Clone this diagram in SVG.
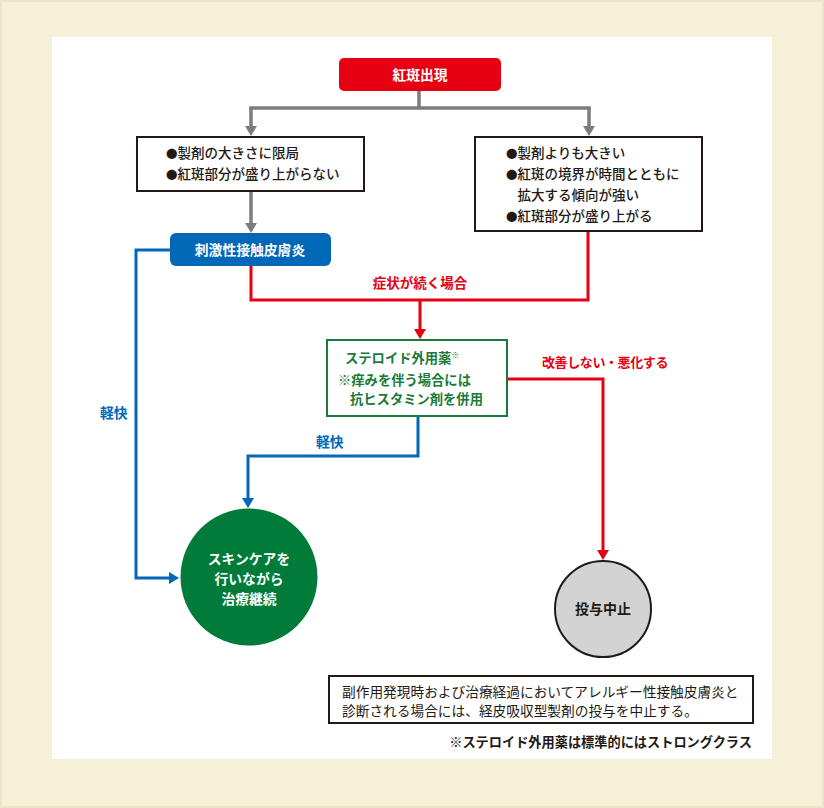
<svg xmlns="http://www.w3.org/2000/svg" width="824" height="808" viewBox="0 0 824 808">
<defs>
<style>
text{font-family:"Noto Sans CJK JP","Noto Sans",sans-serif;}
.t{font-size:13.5px;fill:#231815;font-weight:500;}
.bu{font-size:11.5px;}
.w{font-size:13.8px;fill:#ffffff;font-weight:bold;}
.g{font-size:13.3px;fill:#1a7a3a;font-weight:bold;}
.lr{font-size:13.5px;fill:#e60012;font-weight:bold;}
.lb{font-size:13.8px;fill:#0068b7;font-weight:bold;}
.box{fill:#ffffff;stroke:#231815;stroke-width:2;}
.cg{fill:none;stroke:#7d7d7d;stroke-width:3.5;}
.cr{fill:none;stroke:#e60012;stroke-width:3;}
.cb{fill:none;stroke:#0068b7;stroke-width:3;}
</style>
<marker id="ag" viewBox="0 0 10 12" refX="1" refY="6" markerWidth="10" markerHeight="12" markerUnits="userSpaceOnUse" orient="auto"><path d="M0,0 L10,6 L0,12 z" fill="#7d7d7d"/></marker>
<marker id="ar" viewBox="0 0 10 12" refX="1" refY="6" markerWidth="10" markerHeight="12" markerUnits="userSpaceOnUse" orient="auto"><path d="M0,0 L10,6 L0,12 z" fill="#e60012"/></marker>
<marker id="ab" viewBox="0 0 10 12" refX="1" refY="6" markerWidth="10" markerHeight="12" markerUnits="userSpaceOnUse" orient="auto"><path d="M0,0 L10,6 L0,12 z" fill="#0068b7"/></marker>
</defs>
<rect x="0" y="0" width="824" height="808" fill="#f5f0d8"/>
<rect x="1" y="1" width="822" height="806" fill="none" stroke="#ebe4c8" stroke-width="2"/>
<rect x="52" y="37" width="720" height="722" fill="#ffffff"/>

<g id="connectors">
<path class="cg" d="M419,91 V108"/>
<path class="cg" d="M249.25,108 H590.75"/>
<path class="cg" d="M251,108 V127" marker-end="url(#ag)"/>
<path class="cg" d="M589,108 V127" marker-end="url(#ag)"/>
<path class="cg" d="M251,191 V224" marker-end="url(#ag)"/>
<path class="cr" d="M251,266 V300 H588 V231"/>
<path class="cr" d="M420,300 V330" marker-end="url(#ar)"/>
<path class="cr" d="M508,379 H603 V551" marker-end="url(#ar)"/>
<path class="cb" d="M170,250 H136 V578 H170" marker-end="url(#ab)"/>
<path class="cb" d="M418,416 V456 H248 V499" marker-end="url(#ab)"/>
<text class="lr" x="420" y="288" text-anchor="middle">症状が続く場合</text>
<text class="lr" x="542" y="367" style="font-size:13px;letter-spacing:-0.4px">改善しない・悪化する</text>
<text class="lb" x="100" y="418">軽快</text>
<text class="lb" x="316" y="447">軽快</text>
</g>

<g id="start">
<rect x="339" y="58" width="162" height="33" rx="5" fill="#e60012"/>
<text class="w" x="420" y="80" text-anchor="middle">紅斑出現</text>
</g>

<g id="left-criteria">
<rect class="box" x="137" y="137" width="227" height="54"/>
<text class="t" x="166" y="158"><tspan class="bu">●</tspan>製剤の大きさに限局</text>
<text class="t" x="166" y="179"><tspan class="bu">●</tspan>紅斑部分が盛り上がらない</text>
</g>

<g id="right-criteria">
<rect class="box" x="475" y="137" width="227" height="94"/>
<text class="t" x="506" y="158"><tspan class="bu">●</tspan>製剤よりも大きい</text>
<text class="t" x="506" y="179"><tspan class="bu">●</tspan>紅斑の境界が時間とともに</text>
<text class="t" x="517.5" y="200">拡大する傾向が強い</text>
<text class="t" x="506" y="221"><tspan class="bu">●</tspan>紅斑部分が盛り上がる</text>
</g>

<g id="irritant">
<rect x="170" y="233" width="161" height="33" rx="6" fill="#0068b7"/>
<text class="w" x="250" y="255" text-anchor="middle">刺激性接触皮膚炎</text>
</g>

<g id="steroid">
<rect x="327" y="340" width="180" height="76" fill="#ffffff" stroke="#1a7a3a" stroke-width="2"/>
<text class="g" x="345" y="363">ステロイド外用薬<tspan font-size="7.5px" dy="-5" font-weight="normal">※</tspan></text>
<text class="g" x="338" y="385">※痒みを伴う場合には</text>
<text class="g" x="350" y="404">抗ヒスタミン剤を併用</text>
</g>

<g id="continue">
<circle cx="249" cy="577" r="68.5" fill="#007b3a"/>
<text class="w" x="249" y="564" text-anchor="middle">スキンケアを</text>
<text class="w" x="249" y="584" text-anchor="middle">行いながら</text>
<text class="w" x="249" y="604" text-anchor="middle">治療継続</text>
</g>

<g id="stop">
<circle cx="603" cy="609" r="48" fill="#d3d3d3" stroke="#231815" stroke-width="2"/>
<text x="603" y="614" text-anchor="middle" style="font-size:14px;font-weight:bold;fill:#231815">投与中止</text>
</g>

<g id="note">
<rect class="box" x="329" y="676" width="424" height="47" stroke-width="1.6"/>
<text class="t" x="342" y="697" style="font-size:13.7px;font-weight:normal">副作用発現時および治療経過においてアレルギー性接触皮膚炎と</text>
<text class="t" x="342" y="716" style="font-size:13.7px;font-weight:normal">診断される場合には、経皮吸収型製剤の投与を中止する。</text>
</g>

<g id="footnote">
<text x="752" y="747" text-anchor="end" style="font-size:13.2px;font-weight:bold;fill:#231815">※ステロイド外用薬は標準的にはストロングクラス</text>
</g>
</svg>
